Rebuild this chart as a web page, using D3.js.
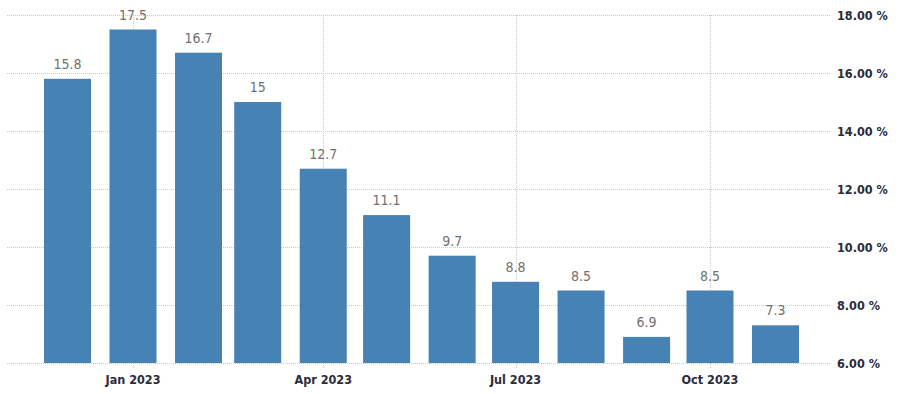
<!DOCTYPE html>
<html>
<head>
<meta charset="utf-8">
<script src="https://d3js.org/d3.v7.min.js"></script>
<style>
    body { margin: 0; background: #fff; }
    .grid line { stroke: #c8c8c8; stroke-dasharray: 1,1; }
    .bar-label { font: 14px "DejaVu Sans Condensed", "Liberation Sans", sans-serif; fill: #707070; }
    .y-label { font: bold 12.5px "DejaVu Sans Condensed", "Liberation Sans", sans-serif; fill: #2b2b3b; }
    .x-label { font: bold 12.5px "DejaVu Sans Condensed", "Liberation Sans", sans-serif; fill: #2b2b3b; }
</style>
</head>
<body>
<script>
    // monthly values, Dec 2022 .. Nov 2023
    var months = ["2022-12", "2023-01", "2023-02", "2023-03", "2023-04", "2023-05",
        "2023-06", "2023-07", "2023-08", "2023-09", "2023-10", "2023-11"];
    var values = [15.8, 17.5, 16.7, 15, 12.7, 11.1, 9.7, 8.8, 8.5, 6.9, 8.5, 7.3];
    var yTicks = [6, 8, 10, 12, 14, 16, 18];
    var xTicks = ["2023-01", "2023-04", "2023-07", "2023-10"];

    var width = 900, height = 394;
    var parse = d3.timeParse("%Y-%m");

    var x = d3.scaleTime()
        .domain([parse("2022-12"), parse("2023-11")])
        .range([67.5, 775.5]);
    var y = d3.scaleLinear()
        .domain([6, 18])
        .range([363, 15]);

    var svg = d3.select("body").append("svg")
        .attr("width", width)
        .attr("height", height);

    // horizontal grid
    svg.append("g").attr("class", "grid")
        .selectAll("line").data(yTicks).enter().append("line")
        .attr("x1", 7).attr("x2", 830)
        .attr("y1", function (d) { return Math.round(y(d)) + 0.5; })
        .attr("y2", function (d) { return Math.round(y(d)) + 0.5; });

    // vertical grid at quarter ticks
    svg.append("g").attr("class", "grid")
        .selectAll("line").data(xTicks).enter().append("line")
        .attr("x1", function (d) { return Math.round(x(parse(d))) + 0.5; })
        .attr("x2", function (d) { return Math.round(x(parse(d))) + 0.5; })
        .attr("y1", y(18)).attr("y2", y(6) + 5);

    var barW = 47;

    svg.append("g").selectAll("rect").data(values).enter().append("rect")
        .attr("x", function (d, i) { return x(parse(months[i])) - barW / 2; })
        .attr("y", function (d) { return y(d); })
        .attr("width", barW)
        .attr("height", function (d) { return y(6) - y(d); })
        .attr("fill", "#4682b4");

    svg.append("g").selectAll("text").data(values).enter().append("text")
        .attr("class", "bar-label")
        .attr("text-anchor", "middle")
        .attr("x", function (d, i) { return x(parse(months[i])); })
        .attr("y", function (d) { return y(d) - 10; })
        .text(function (d) { return d; });

    svg.append("g").selectAll("text").data(yTicks).enter().append("text")
        .attr("class", "y-label")
        .attr("x", 837)
        .attr("y", function (d) { return y(d) + 5; })
        .text(function (d) { return d.toFixed(2) + " %"; });

    var fmt = d3.timeFormat("%b %Y");
    svg.append("g").selectAll("text").data(xTicks).enter().append("text")
        .attr("class", "x-label")
        .attr("text-anchor", "middle")
        .attr("x", function (d) { return x(parse(d)); })
        .attr("y", 384)
        .text(function (d) { return fmt(parse(d)); });
</script>
</body>
</html>
